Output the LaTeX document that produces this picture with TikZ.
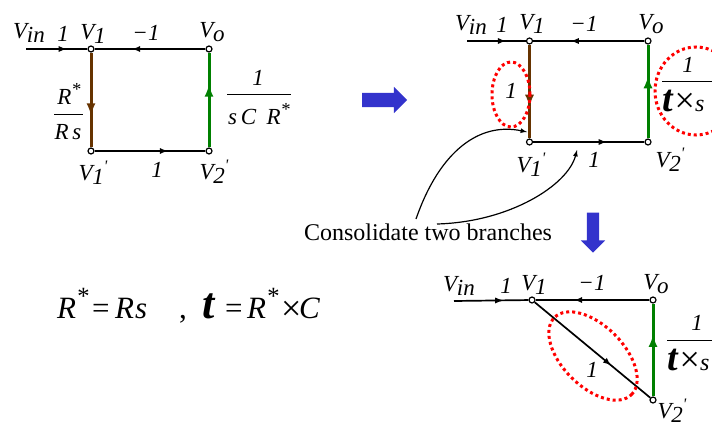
\documentclass[tikz,border=0pt]{standalone}
\usepackage{fontspec}
\setmainfont{Liberation Serif}
\usetikzlibrary{decorations.markings,shapes.geometric,shapes.arrows}
\definecolor{brun}{HTML}{663300}
\definecolor{vert}{HTML}{008000}
\definecolor{bleu}{HTML}{3333CC}
\newcommand{\Ind}[2]{\textit{#1}\kern-2.5pt\raisebox{-4.5pt}{\textit{#2}}}
\newcommand{\Prim}[2]{\textit{#1}\kern-2.5pt\raisebox{-4pt}{\textit{#2}}\raisebox{9pt}{\fontsize{16}{16}\selectfont\textit{\textquotesingle}}}
\newcommand{\Etoile}[1]{\textit{#1}\raisebox{.42em}{\scalebox{0.8}{\textit{*}}}}
\newcommand{\Tfois}{\fontsize{38}{38}\selectfont\textbf{\textit{t}}\kern1pt\fontsize{36}{36}\selectfont\raisebox{-1pt}{×}\fontsize{24}{24}\selectfont\textit{s}}
\begin{document}
\begin{tikzpicture}[x=1pt,y=-1pt]
	% Styles
	\tikzstyle{branche}=[line width=1.7pt,postaction={decorate},decoration={markings,mark=at position 0.66 with {\arrow{latex}}}]
	\tikzstyle{montant}=[branche,line width=3pt,decoration={markings,mark=at position 0.63 with {\arrow[scale=0.7]{latex}}}]
	\tikzstyle{sommet}=[circle,draw,fill=white,line width=1.2pt,inner sep=0pt,minimum size=6pt]
	\tikzstyle{etiquette}=[inner sep=0pt,font=\fontsize{23}{25}\selectfont]
	\tikzstyle{barre}=[line width=1pt]
	\tikzstyle{cercle}=[ellipse,draw=red,line width=3pt,dash pattern=on 3pt off 3pt,inner sep=0pt]
	\tikzstyle{grosse}=[single arrow,fill=bleu,single arrow head extend=6pt]
	\tikzstyle{rappel}=[line width=1.2pt,-latex]
	\tikzstyle{formule}=[inner sep=0pt,anchor=base west,font=\fontsize{31}{35}\selectfont]
	\useasboundingbox (0,0) rectangle (712,428);
	% Graphe de gauche
	\coordinate (Ga) at (26,49);
	\node[sommet] (Gb) at (91,49) {};
	\node[sommet] (Gc) at (209,49) {};
	\node[sommet] (Gd) at (91,151) {};
	\node[sommet] (Ge) at (209,151) {};
	\draw[branche] (Ga)--(Gb);
	\draw[branche] (Gc)--(Gb);
	\draw[montant,color=brun] (Gb)--(Gd);
	\draw[branche] (Gd)--(Ge);
	\draw[montant,color=vert] (Ge)--(Gc);
	\node[etiquette] (GVin) at (29,33) {\Ind{V}{in}};
	\node[etiquette] (GUn) at (63,34) {\textit{1}};
	\node[etiquette] (GVa) at (93,34) {\Ind{V}{1}};
	\node[etiquette] (GMoins) at (146,33) {\textit{−1}};
	\node[etiquette] (GVo) at (212,32) {\Ind{V}{o}};
	\node[etiquette] (GVb) at (93,173) {\Prim{V}{1}};
	\node[etiquette] (GBas) at (157,170) {\textit{1}};
	\node[etiquette] (GVc) at (214,172) {\Prim{V}{2}};
	\node[etiquette] (GRa) at (69,94) {\Etoile{R}};
	\node[etiquette] (GRb) at (68,132) {\textit{R\,s}};
	\coordinate (GBa) at (54,114);
	\coordinate (GBb) at (83,114);
	\draw[barre] (GBa)--(GBb);
	\node[etiquette] (GFa) at (258,78) {\textit{1}};
	\node[etiquette] (GFb) at (259,114) {\textit{s\,C\;\,}\Etoile{R}};
	\coordinate (GBc) at (227,94);
	\coordinate (GBd) at (291,94);
	\draw[barre] (GBc)--(GBd);
	% Graphe du haut
	\coordinate (Ha) at (467,41);
	\node[sommet] (Hb) at (529.5,41) {};
	\node[sommet] (Hc) at (648,41) {};
	\node[sommet] (Hd) at (529.5,142) {};
	\node[sommet] (He) at (648,142) {};
	\draw[branche] (Ha)--(Hb);
	\draw[branche] (Hc)--(Hb);
	\draw[montant,color=brun] (Hb)--(Hd);
	\draw[branche] (Hd)--(He);
	\draw[montant,color=vert] (He)--(Hc);
	\node[etiquette] (HVin) at (471,25) {\Ind{V}{in}};
	\node[etiquette] (HUn) at (502,25) {\textit{1}};
	\node[etiquette] (HVa) at (532,24) {\Ind{V}{1}};
	\node[etiquette] (HMoins) at (584,24) {\textit{−1}};
	\node[etiquette] (HVo) at (651,24) {\Ind{V}{o}};
	\node[etiquette] (HVb) at (531,165) {\Prim{V}{1}};
	\node[etiquette] (HBas) at (594,160) {\textit{1}};
	\node[etiquette] (HVc) at (670,160) {\Prim{V}{2}};
	\node[etiquette] (HGa) at (511,91) {\textit{1}};
	\node[cercle,minimum width=38pt,minimum height=65pt] (HCa) at (511,94.5) {};
	\node[etiquette] (HFa) at (688,65) {\textit{1}};
	\coordinate (HBa) at (662,81);
	\coordinate (HBb) at (712,81);
	\draw[barre] (HBa)--(HBb);
	\node[etiquette,anchor=base west] (HFb) at (662,111) {\Tfois};
	\node[cercle,minimum width=82pt,minimum height=88pt] (HCb) at (696,91) {};
	% Fleches bleues
	\node[grosse,inner sep=7pt,minimum height=45pt] (FlecheD) at (381,100) {};
	\node[grosse,inner sep=6pt,rotate=-90,minimum height=40pt] (FlecheB) at (593,229.5) {};
	% Commentaire
	\node[inner sep=0pt,font=\fontsize{24}{26}\selectfont] (Texte) at (428,232) {Consolidate two branches};
	\coordinate (Da) at (416,219);
	\coordinate (Db) at (437,224);
	\coordinate (Ca) at (527,132);
	\coordinate (Cb) at (577,150);
	\draw[rappel] (Da) .. controls (440,150) and (480,122) .. (Ca);
	\draw[rappel] (Db) .. controls (510,222) and (568,185) .. (Cb);
	% Formule
	\node[formule] (Fa) at (57,318) {\Etoile{R}};
	\node[formule] (Fb) at (92,318) {=};
	\node[formule] (Fi) at (115,318) {\textit{R\kern1pt s}};
	\node[formule] (Fc) at (179,318) {,};
	\node[formule,font=\fontsize{44}{46}\selectfont] (Fd) at (202,318) {\textbf{\textit{t}}};
	\node[formule] (Fe) at (225,318) {=};
	\node[formule] (Ff) at (247,318) {\Etoile{R}};
	\node[formule,font=\fontsize{36}{38}\selectfont] (Fg) at (281,320.5) {×};
	\node[formule] (Fh) at (299,318) {\textit{C}};
	% Graphe du bas
	\coordinate (Ba) at (454,301);
	\node[sommet] (Bb) at (532,300) {};
	\node[sommet] (Bc) at (653,300) {};
	\node[sommet] (Be) at (653,400) {};
	\draw[branche] (Ba)--(Bb);
	\draw[branche] (Bc)--(Bb);
	\draw[branche] (Bb)--(Be);
	\draw[montant,color=vert] (Be)--(Bc);
	\node[etiquette] (BVin) at (459,286) {\Ind{V}{in}};
	\node[etiquette] (BUn) at (506,286) {\textit{1}};
	\node[etiquette] (BVa) at (534,285) {\Ind{V}{1}};
	\node[etiquette] (BMoins) at (592,283) {\textit{−1}};
	\node[etiquette] (BVo) at (656,284) {\Ind{V}{o}};
	\node[etiquette] (BVc) at (672,411) {\Prim{V}{2}};
	\node[etiquette] (BGa) at (592,370) {\textit{1}};
	\node[cercle,rotate=-45,minimum width=109pt,minimum height=61pt] (BC) at (593,356) {};
	\node[etiquette] (BFa) at (697,323) {\textit{1}};
	\coordinate (BBa) at (667,340);
	\coordinate (BBb) at (712,340);
	\draw[barre] (BBa)--(BBb);
	\node[etiquette,anchor=base west] (BFb) at (667,370) {\Tfois};
\end{tikzpicture}
\end{document}
